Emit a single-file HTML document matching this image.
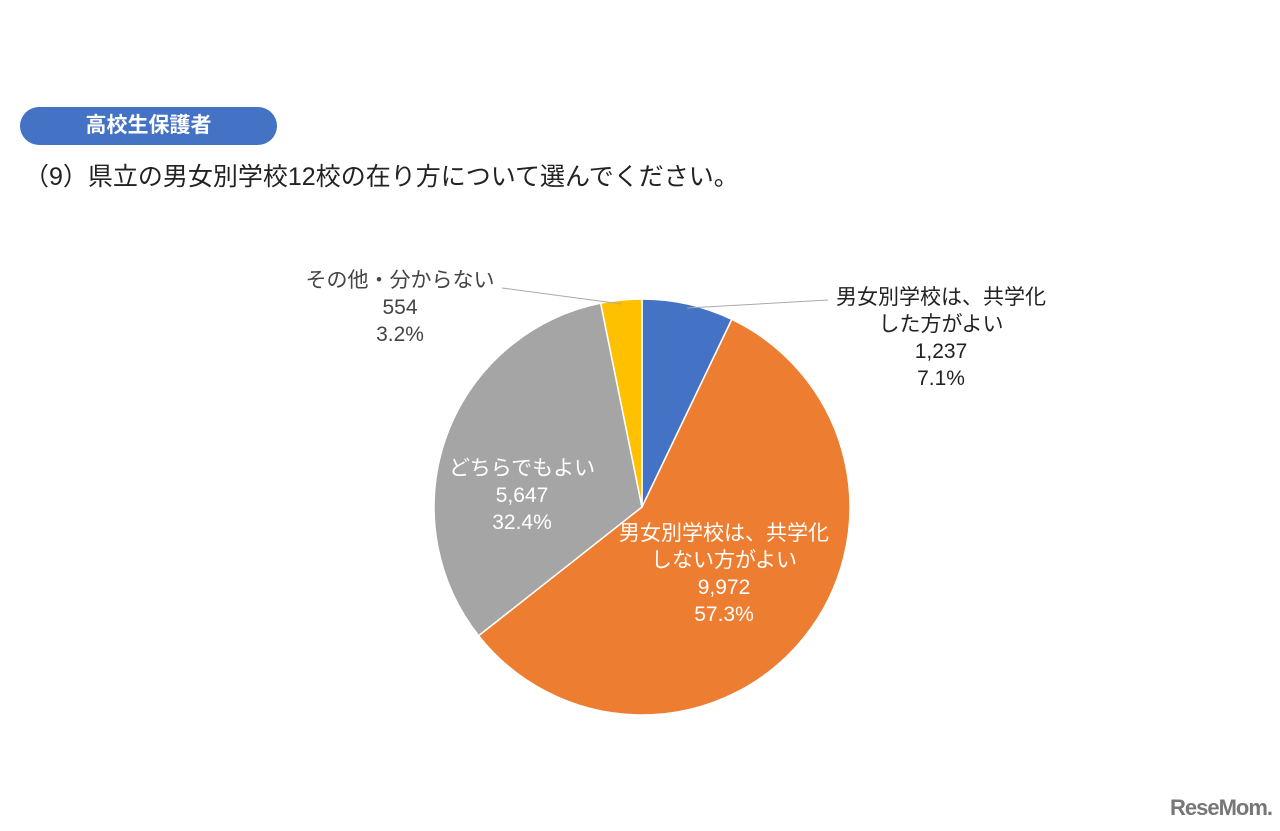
<!DOCTYPE html>
<html><head><meta charset="utf-8"><style>
body{margin:0;width:1280px;height:831px;background:#fff;overflow:hidden;position:relative;font-family:"Liberation Sans","Noto Sans CJK JP",sans-serif}
#badge{position:absolute;left:20px;top:107px;width:257px;height:38px;border-radius:19px;background:#4472c4;color:#fff;font-size:21px;font-weight:bold;line-height:38px;text-align:center}
#title{position:absolute;left:24px;top:157px;font-size:25px;color:#222;white-space:nowrap}
#logo{position:absolute;left:1170px;top:795px;font-size:22px;font-weight:bold;color:#777;letter-spacing:-1px}
svg{position:absolute;left:0;top:0}
</style></head><body>
<div id="badge">高校生保護者</div>
<div id="title">（9）県立の男女別学校12校の在り方について選んでください。</div>
<div id="logo">ReseMom.</div>
<svg id="chart" width="1280" height="831"></svg>
<script>
const categories=["男女別学校は、共学化|した方がよい","男女別学校は、共学化|しない方がよい","どちらでもよい","その他・分からない"];
const counts=[1237,9972,5647,554];
const countLabels=["1,237","9,972","5,647","554"];
const percentLabels=["7.1%","57.3%","32.4%","3.2%"];
const colors=["#4472c4","#ed7d31","#a5a5a5","#ffc000"];
const svg=document.getElementById('chart');
const NS="http://www.w3.org/2000/svg";
const cx=642,cy=507,r=208;
const total=counts.reduce((a,b)=>a+b,0);
function pt(a,rr){return [cx+rr*Math.sin(a),cy-rr*Math.cos(a)];}
let ang=0;const mids=[];
counts.forEach((v,i)=>{
  const a0=ang,a1=ang+v/total*2*Math.PI;ang=a1;mids.push((a0+a1)/2);
  const p0=pt(a0,r),p1=pt(a1,r);
  const p=document.createElementNS(NS,'path');
  p.setAttribute('d',`M${cx},${cy}L${p0[0]},${p0[1]}A${r},${r} 0 ${a1-a0>Math.PI?1:0} 1 ${p1[0]},${p1[1]}Z`);
  p.setAttribute('fill',colors[i]);p.setAttribute('stroke','#fff');p.setAttribute('stroke-width','1.5');
  
  
  svg.appendChild(p);
});
const place=[[941,304,'#222'],[724,540,'#fff'],[522,475,'#fff'],[400,287,'#444']];
categories.forEach((c,i)=>{
  const lines=c.split('|').concat([countLabels[i],percentLabels[i]]);
  const t=document.createElementNS(NS,'text');
  t.setAttribute('x',place[i][0]);t.setAttribute('y',place[i][1]);
  t.setAttribute('fill',place[i][2]);t.setAttribute('font-size','21');t.setAttribute('text-anchor','middle');
  
  
  lines.forEach((l,k)=>{const s=document.createElementNS(NS,'tspan');s.setAttribute('x',place[i][0]);s.setAttribute('dy',k?'27':'0');s.textContent=l;t.appendChild(s);});
  svg.appendChild(t);
});
[[0,828,300],[3,502,288]].forEach(([i,x,y])=>{
  const p=pt(mids[i],r-4);
  const l=document.createElementNS(NS,'polyline');
  l.setAttribute('points',`${p[0]},${p[1]} ${x},${y}`);
  l.setAttribute('stroke','#aaa');l.setAttribute('fill','none');
  
  
  svg.appendChild(l);
});
</script>
</body></html>
